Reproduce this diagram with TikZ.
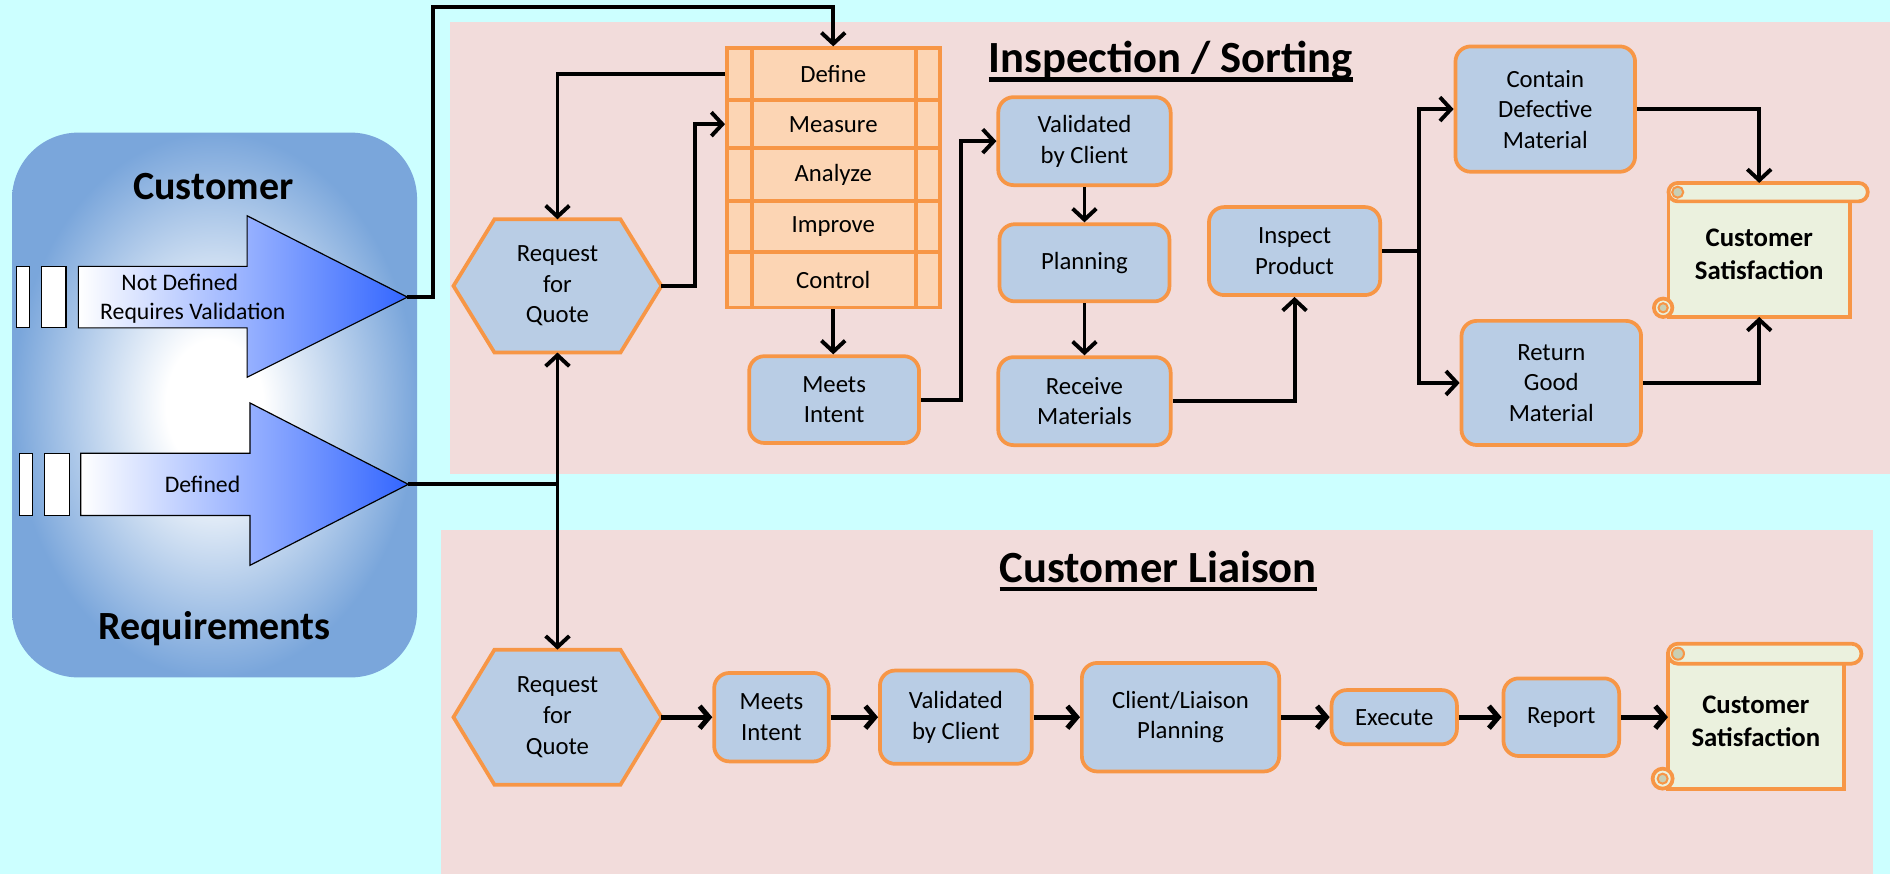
\documentclass[tikz,border=0pt]{standalone}
\usepackage{fontspec}
\setmainfont{Carlito}
\usetikzlibrary{arrows.meta}
\definecolor{bgcyan}{HTML}{CCFFFF}
\definecolor{panelpink}{HTML}{F2DCDB}
\definecolor{nodeblue}{HTML}{B9CDE5}
\definecolor{orangeC}{HTML}{F79646}
\definecolor{dmaicfill}{HTML}{FCD5B4}
\definecolor{scrollfill}{HTML}{EBF1DE}
\definecolor{curlfill}{HTML}{C9CFB4}
\definecolor{custblue}{HTML}{7AA6DB}
\definecolor{arrowblue}{HTML}{3366FF}
\def\pxu{0.025cm}
\pgfdeclarelayer{panel}
\pgfdeclarelayer{shapes}
\pgfsetlayers{panel,shapes,main}
\pgfdeclareradialshading{custshade}{\pgfpoint{0bp}{0bp}}{color(0bp)=(white); color(6bp)=(white); color(25bp)=(custblue); color(50bp)=(custblue)}
\tikzset{
  txt/.style={font=\fontsize{14.6}{18}\selectfont, align=center},
  pbox/.style 2 args={txt, draw=orangeC, fill=nodeblue, line width=2.2pt, rounded corners=9pt,
     minimum width=#1*\pxu, minimum height=#2*\pxu, inner sep=0pt},
  hexnode/.style 2 args={txt, minimum width=#1*\pxu, minimum height=#2*\pxu, inner sep=0pt},
  hexshape/.style={draw=orangeC, fill=nodeblue, line width=2.2pt},
  dmaic/.style={txt, draw=orangeC, fill=dmaicfill, line width=2.2pt, minimum width=176.5*\pxu,
     minimum height=#1*\pxu, inner sep=0pt},
  scrollnode/.style 2 args={font=\bfseries\fontsize{15.8}{19.6}\selectfont, align=center,
     minimum width=#1*\pxu, minimum height=#2*\pxu, inner sep=0pt},
  scrollshape/.style={draw=orangeC, fill=scrollfill, line width=2.2pt},
  curlshape/.style={draw=orangeC, fill=curlfill, line width=1.2pt},
  conn/.style={line width=2.3pt, -{Straight Barb[length=6.5pt,width=14pt]}},
  bconn/.style={line width=3pt, -{Straight Barb[length=5.5pt,width=13pt]}},
  ttl/.style={font=\bfseries\fontsize{26.3}{30}\selectfont, inner sep=0pt},
  custfont/.style={font=\bfseries\fontsize{23.6}{28}\selectfont, inner sep=0pt},
  arrtxt/.style={font=\fontsize{14}{17.3}\selectfont, align=center, inner sep=0pt},
  bigarrow/.style={left color=white, right color=arrowblue, draw=black, line width=0.7pt},
  bar/.style={fill=white, draw=black, line width=0.7pt}
}
\newcommand{\drawhex}[1]{%
  \filldraw[hexshape] (#1.west) -- ([xshift=34*\pxu]#1.north west) -- ([xshift=-34*\pxu]#1.north east)
    -- (#1.east) -- ([xshift=-34*\pxu]#1.south east) -- ([xshift=34*\pxu]#1.south west) -- cycle;}
\newcommand{\drawscroll}[3]{%
  \filldraw[scrollshape] (#1.north west) rectangle (#1.south east);
  \filldraw[scrollshape, rounded corners=0.5*#2*\pxu] ([yshift=0.5*#2*\pxu]#1.north west)
     rectangle ([xshift=#3*\pxu, yshift=-0.5*#2*\pxu]#1.north east);
  \filldraw[curlshape] ([xshift=0.5*#2*\pxu]#1.north west) circle (0.3*#2*\pxu);
  \filldraw[scrollshape] ([xshift=-0.3*#3*\pxu, yshift=0.5*#2*\pxu]#1.south west) circle (0.5*#2*\pxu);
  \filldraw[curlshape] ([xshift=-0.3*#3*\pxu, yshift=0.5*#2*\pxu]#1.south west) circle (0.25*#2*\pxu);}
\begin{document}
\begin{tikzpicture}[x=0.025cm, y=-0.025cm]
\useasboundingbox (0,0) rectangle (1568,725);
\begin{pgfonlayer}{panel}
  \fill[bgcyan] (0,0) rectangle (1568,725);
  \fill[panelpink] (373,18) rectangle (1568,393);
  \fill[panelpink] (366,440) rectangle (1554,725);
  \shade[shading=custshade, rounded corners=55*\pxu] (10,110) rectangle (346,562);
\end{pgfonlayer}

% customer requirements box
\node[custfont, anchor=base] (ct) at (177,165.4) {Customer};
\node[custfont, anchor=base] (rt) at (178,530.7) {Requirements};
\shadedraw[bigarrow] (65,221) -- (205,221) -- (205,179) -- (338,246.5) -- (205,313) -- (205,272) -- (65,272) -- cycle;
\filldraw[bar] (13.8,221) rectangle (24.3,272);
\filldraw[bar] (34.3,221) rectangle (54.7,272);
\coordinate (tip1) at (338,246.5);
\node[arrtxt] (nd) at (160,248) {Not Defined\hspace*{1.1em}\\Requires Validation};
\shadedraw[bigarrow] (67,376) -- (207.4,376) -- (207.4,334.3) -- (338.7,401.8) -- (207.4,469) -- (207.4,427.6) -- (67,427.6) -- cycle;
\filldraw[bar] (16,376) rectangle (26.8,427.6);
\filldraw[bar] (36.8,376) rectangle (57.5,427.6);
\coordinate (tip2) at (338.7,401.8);
\node[arrtxt] (df) at (168,401.7) {Defined};

% titles
\node[ttl, anchor=base] (t1) at (971.4,60) {Inspection / Sorting};
\draw[line width=2.6pt] ([yshift=-4.3pt]t1.base west) -- ([yshift=-4.3pt]t1.base east);
\node[ttl, anchor=base] (t2) at (961,483) {Customer Liaison};
\draw[line width=2.6pt] ([yshift=-3.9pt]t2.base west) -- ([yshift=-3.9pt]t2.base east);

% top panel nodes
\node[hexnode={172}{110}] (rfq1) at (462.5,237.2) {Request\\for\\Quote};
\node[dmaic=43] (define) at (691.3,61.5) {Define};
\node[dmaic=40] (measure) at (691.3,103) {Measure};
\node[dmaic=44] (analyze) at (691.3,145) {Analyze};
\node[dmaic=42] (improve) at (691.3,188) {Improve};
\node[dmaic=46] (control) at (691.3,232) {Control};
\draw[orangeC, line width=2.2pt] ([xshift=22.4*\pxu]define.north west) -- ([xshift=22.4*\pxu]control.south west);
\draw[orangeC, line width=2.2pt] ([xshift=-21.3*\pxu]define.north east) -- ([xshift=-21.3*\pxu]control.south east);
\node[pbox={141}{72}] (mi1) at (692,331.5) {Meets\\Intent};
\node[pbox={143}{73}] (vc1) at (899.7,117.1) {Validated\\by Client};
\node[pbox={141}{64}] (plan) at (899.7,218) {Planning};
\node[pbox={143}{73}] (recv) at (899.7,332.8) {Receive\\Materials};
\node[pbox={142}{73}] (insp) at (1074,208.3) {Inspect\\Product};
\node[pbox={149}{104}] (cdm) at (1282,90.5) {Contain\\Defective\\Material};
\node[pbox={149}{103}] (rgm) at (1287,317.7) {Return\\Good\\Material};
\node[scrollnode={150}{103}] (cs1) at (1459.5,211.2) {Customer\\Satisfaction};

% bottom panel nodes
\node[hexnode={172}{111.5}] (rfq2) at (462.5,595) {Request\\for\\Quote};
\node[pbox={95}{73.4}] (mi2) at (640,595) {Meets\\Intent};
\node[pbox={126}{77.4}] (vc2) at (793,595) {Validated\\by Client};
\node[pbox={163.7}{90}] (clp) at (979.4,595) {Client/Liaison\\Planning};
\node[pbox={104}{45}] (exe) at (1156.7,595) {Execute};
\node[pbox={96}{64.4}] (rep) at (1295.3,595) {Report};
\node[scrollnode={145.3}{111.4}] (cs2) at (1456.7,598.3) {Customer\\Satisfaction};

\begin{pgfonlayer}{shapes}
  \drawhex{rfq1}
  \drawhex{rfq2}
  \drawscroll{cs1}{15.3}{14.8}
  \drawscroll{cs2}{16.6}{14.7}
\end{pgfonlayer}

% connectors top
\draw[conn] (tip1) -- ++(21,0) |- ([yshift=33*\pxu]define.north) -- (define.north);
\draw[conn] (tip2) -| (rfq1.south);
\draw[conn] (tip2) -| (rfq2.north);
\draw[conn] (define.west) -| (rfq1.north);
\draw[conn] (rfq1.east) -- ++(27.6,0) |- (measure.west);
\draw[conn] (control.south) -- (control.south |- mi1.north);
\draw[conn] (mi1.east) -- ++(33.3,0) |- (vc1.west);
\draw[conn] (vc1.south) -- (vc1.south |- plan.north);
\draw[conn] (plan.south) -- (plan.south |- recv.north);
\draw[conn] (recv.east) -| (insp.south);
\draw[conn] (insp.east) -- ++(30.5,0) |- (cdm.west);
\draw[conn] (insp.east) -- ++(30.5,0) |- (rgm.west);
\draw[conn] (cdm.east) -| ([yshift=7.65*\pxu]cs1.north);
\draw[conn] (rgm.east) -| (cs1.south);

% connectors bottom
\draw[bconn] (rfq2.east) -- (mi2.west);
\draw[bconn] (mi2.east) -- (vc2.west);
\draw[bconn] (vc2.east) -- (clp.west);
\draw[bconn] (clp.east) -- (exe.west);
\draw[bconn] (exe.east) -- (rep.west);
\draw[bconn] (rep.east) -- (rep.east -| cs2.west);
\end{tikzpicture}
\end{document}
